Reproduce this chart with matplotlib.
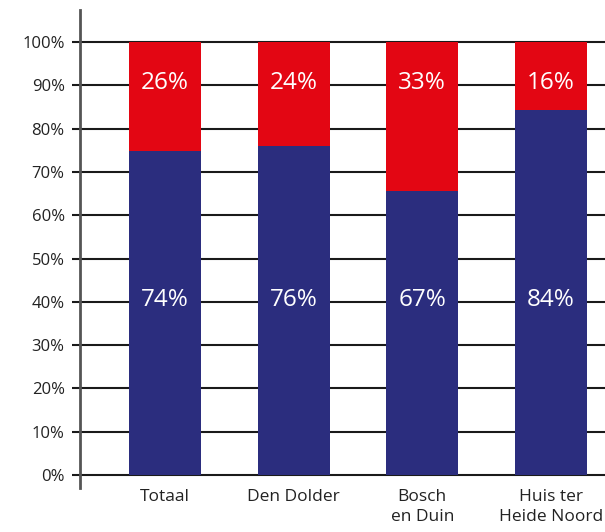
import numpy as np
import matplotlib.pyplot as plt

plt.rcParams['font.family'] = ['Open Sans', 'DejaVu Sans']

categories = ['Totaal', 'Den Dolder', 'Bosch\nen Duin', 'Huis ter\nHeide Noord']
blue_vals = [74.8, 76.0, 65.6, 84.3]
red_vals = [25.2, 24.0, 34.4, 15.7]
blue_labels = ['74%', '76%', '67%', '84%']
red_labels = ['26%', '24%', '33%', '16%']

blue = '#2B2D7E'
red = '#E30613'

fig = plt.figure(figsize=(6.05, 5.32), dpi=100)
ax = fig.add_axes([80/605, 44/532, 525/605, 478/532])

x = np.arange(len(categories))
ax.bar(x, blue_vals, width=0.56, color=blue, zorder=3)
ax.bar(x, red_vals, bottom=blue_vals, width=0.56, color=red, zorder=3)

for i in range(len(x)):
    ax.text(x[i], 40.4, blue_labels[i], color='white', fontsize=17.5,
            ha='center', va='center', zorder=4)
    ax.text(x[i], 90.6, red_labels[i], color='white', fontsize=17.5,
            ha='center', va='center', zorder=4)

ax.set_xlim(-0.66, 3.42)
ax.set_ylim(-3, 107.4)
yt = np.arange(0, 101, 10)
ax.set_yticks(yt)
ax.set_yticklabels(['%d%%' % v for v in yt], fontsize=12, color='#222222')
for v in yt:
    ax.axhline(v, color='#1a1a1a', lw=1.5, zorder=1)

ax.set_xticks(x)
ax.set_xticklabels(categories, fontsize=12.5, color='#222222', linespacing=1.3, va='top')
ax.tick_params(axis='x', length=0, pad=1)
ax.tick_params(axis='y', length=6, width=1.5, color='#1a1a1a', pad=5)

for s in ['top', 'right', 'bottom']:
    ax.spines[s].set_visible(False)
ax.spines['left'].set_color('#555555')
ax.spines['left'].set_linewidth(2)

fig.savefig('out.png', dpi=100)
